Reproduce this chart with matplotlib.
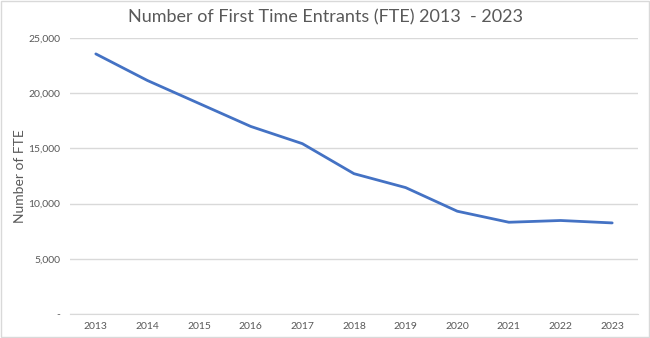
#!/usr/bin/env python3

"""Number of First Time Entrants (FTE) 2013 - 2023."""

import matplotlib.pyplot as plt
from matplotlib.patches import Rectangle
from matplotlib.ticker import FuncFormatter

years = ['2013', '2014', '2015', '2016', '2017', '2018',
         '2019', '2020', '2021', '2022', '2023']
fte = [23560, 21150, 19070, 16990, 15430, 12710,
       11450, 9310, 8310, 8470, 8250]

plt.rcParams['font.family'] = ['Lato', 'DejaVu Sans']
grey = '#595959'

fig = plt.figure(figsize=(6.5, 3.38), dpi=100)
ax = fig.add_axes([70 / 650, 1 - 314 / 338, 568 / 650, 276 / 338])

x = range(len(years))
ax.plot(x, fte, color='#4472C4', linewidth=2, solid_capstyle='round')

ax.set_xlim(-0.5, len(years) - 0.5)
ax.set_ylim(0, 25000)
ax.set_yticks(range(0, 25001, 5000))
ax.yaxis.set_major_formatter(FuncFormatter(lambda v, p: '-' if v == 0 else f'{v:,.0f}'))
ax.set_xticks(list(x))
ax.set_xticklabels(years)

ax.grid(axis='y', color='#d9d9d9', linewidth=1)
ax.set_axisbelow(True)
for s in ['top', 'right', 'left']:
    ax.spines[s].set_visible(False)
ax.spines['bottom'].set_color('#d9d9d9')
ax.tick_params(length=0, colors=grey, labelsize=7.5, pad=7)
ax.tick_params(axis='x', pad=6)

ax.set_ylabel('Number of FTE', color=grey, fontsize=10)
ax.yaxis.set_label_coords(-(70 - 26) / 568, 0.5)
fig.text(0.5, 1 - 17 / 338, 'Number of First Time Entrants (FTE) 2013  - 2023',
         ha='center', va='center', color=grey, fontsize=13)

fig.patches.append(Rectangle((0.001, 0.002), 0.997, 0.995, transform=fig.transFigure,
                             fill=False, edgecolor='#d9d9d9', linewidth=1))

plt.savefig('out.png', dpi=100)
